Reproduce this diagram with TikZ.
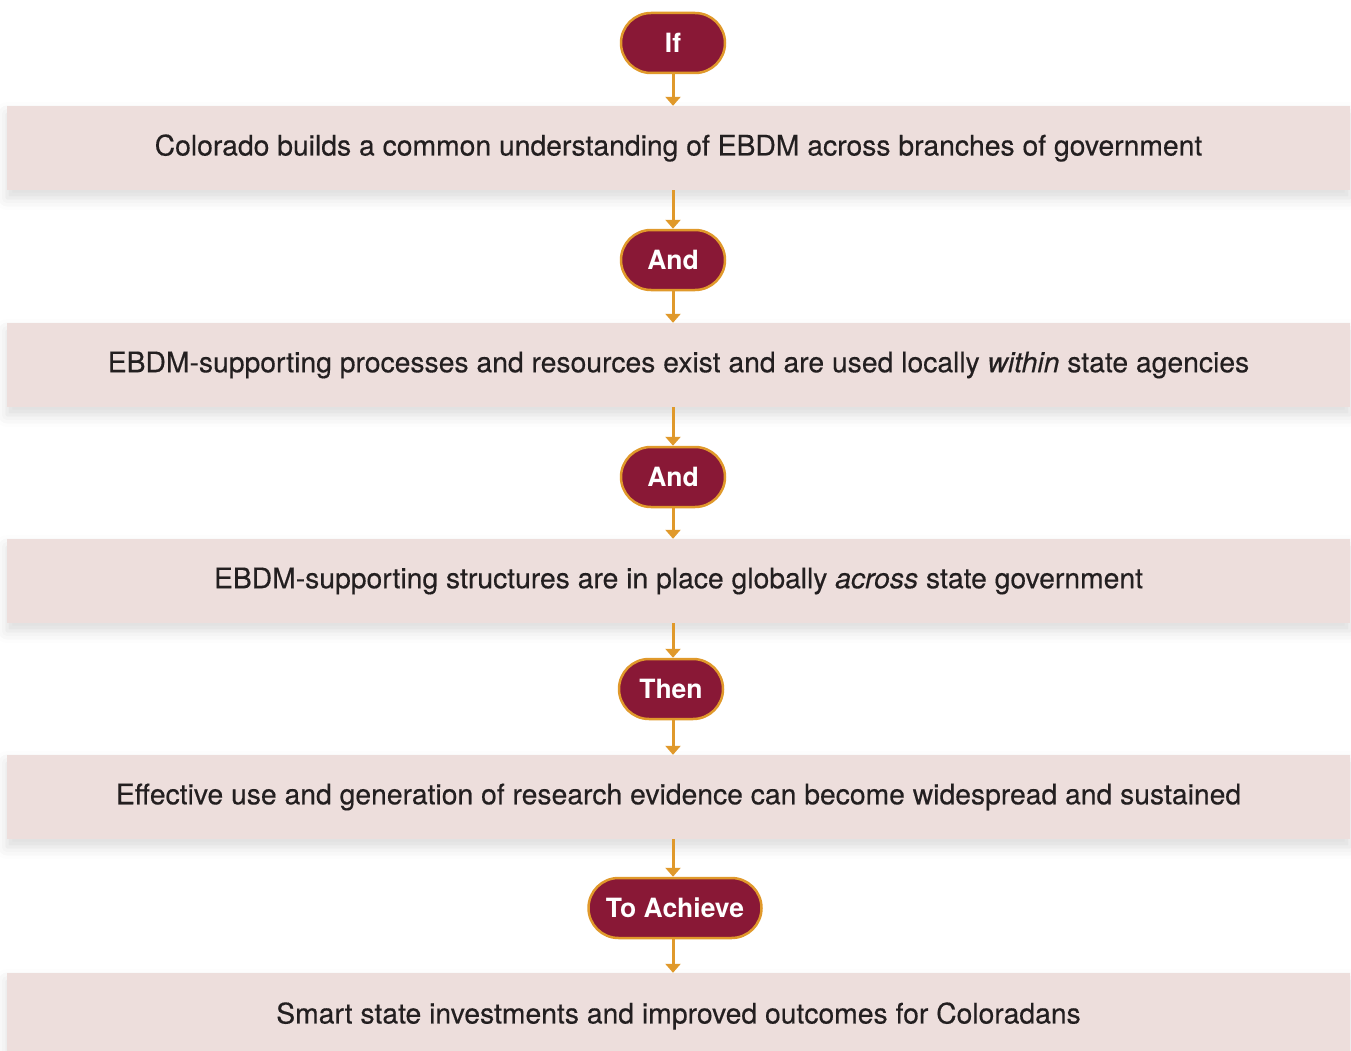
\documentclass[tikz,border=0pt]{standalone}
\usepackage{fontspec}
\setmainfont{TeX Gyre Heros}
\newfontfamily\medfont[FakeBold=0.35,ItalicFont={TeX Gyre Heros Italic},ItalicFeatures={FakeBold=0.35}]{TeX Gyre Heros}
\usetikzlibrary{arrows.meta,shadows.blur}
\definecolor{maroon}{HTML}{891836}
\definecolor{gold}{HTML}{E0992B}
\definecolor{boxpink}{HTML}{EDDEDC}
\definecolor{txt}{HTML}{231F20}
\tikzset{
  stage/.style={rectangle, fill=boxpink, minimum width=1343pt, minimum height=84pt, inner sep=0pt,
    text=txt, font=\medfont\fontsize{28.3}{32}\selectfont,
    blur shadow={shadow xshift=0pt, shadow yshift=-8pt, shadow blur radius=12pt, shadow opacity=14}},
  pill/.style={rectangle, rounded corners=30pt, fill=maroon, draw=gold, line width=2.5pt, minimum height=60pt,
    inner sep=0pt, text=white, font=\bfseries\fontsize{26.5}{30}\selectfont},
  flow/.style={gold, line width=3pt, sharp corners, -{Triangle[width=15pt,length=9pt]}}
}
\begin{document}
\begin{tikzpicture}[x=1pt,y=-1pt]
\useasboundingbox (0,0) rectangle (1351,1051);
\node[stage] (b1) at (678.5,148) {Colorado builds a common understanding of EBDM across branches of government};
\node[stage] (b2) at (678.5,365) {EBDM-supporting processes and resources exist and are used locally \textit{within} state agencies};
\node[stage] (b3) at (678.5,581) {EBDM-supporting structures are in place globally \textit{across} state government};
\node[stage] (b4) at (678.5,797) {Effective use and generation of research evidence can become widespread and sustained};
\node[stage, minimum height=86pt] (b5) at (678.5,1016) {Smart state investments and improved outcomes for Coloradans};
\node[pill, minimum width=104pt] (p1) at (673,43) {If};
\node[pill, minimum width=104pt] (p2) at (673,260) {And};
\node[pill, minimum width=104pt] (p3) at (673,477) {And};
\node[pill, minimum width=104pt] (p4) at (671,689) {Then};
\node[pill, minimum width=173pt] (p5) at (675,908) {To Achieve};
\draw[flow] (p1.south -| 673,0) -- (b1.north -| 673,0);
\draw[flow] (b1.south -| 673,0) -- (p2.north -| 673,0);
\draw[flow] (p2.south -| 673,0) -- (b2.north -| 673,0);
\draw[flow] (b2.south -| 673,0) -- (p3.north -| 673,0);
\draw[flow] (p3.south -| 673,0) -- (b3.north -| 673,0);
\draw[flow] (b3.south -| 673,0) -- (p4.north -| 673,0);
\draw[flow] (p4.south -| 673,0) -- (b4.north -| 673,0);
\draw[flow] (b4.south -| 673,0) -- (p5.north -| 673,0);
\draw[flow] (p5.south -| 673,0) -- (b5.north -| 673,0);
\end{tikzpicture}
\end{document}
